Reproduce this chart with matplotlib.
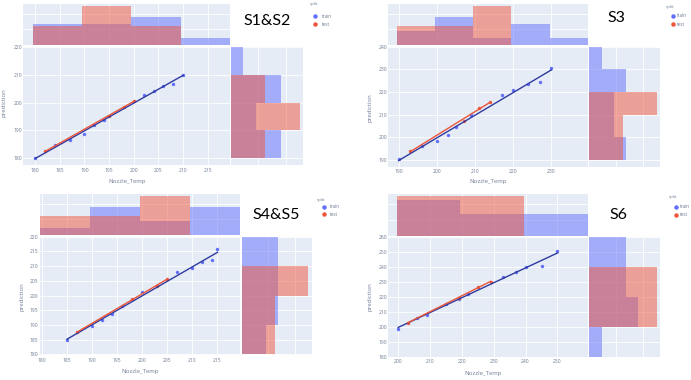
import numpy as np
import matplotlib
matplotlib.use("Agg")
import matplotlib.pyplot as plt
from matplotlib.lines import Line2D

# ---------------- data ----------------
s12_train_temp = [180, 184, 187, 190, 192, 194, 202, 204, 206, 208, 210]
s12_train_pred = [180.0, 184.6, 186.7, 188.7, 191.8, 193.8, 202.8, 204.2, 205.8, 206.7, 210.0]
s12_test_temp = [182, 195, 198, 200]
s12_test_pred = [182.5, 195.3, 198.3, 200.6]

s3_train_temp = [190, 196, 200, 203, 205, 209, 217, 220, 224, 227, 230]
s3_train_pred = [190.4, 196.2, 198.5, 201.2, 204.5, 210.1, 218.5, 221.0, 223.4, 224.3, 230.6]
s3_test_temp = [193, 207, 211, 214]
s3_test_pred = [193.9, 207.3, 213.0, 215.7]

s45_train_temp = [185, 190, 192, 194, 196, 200, 207, 210, 212, 214, 215]
s45_train_pred = [185.0, 189.7, 191.7, 193.7, 196.4, 201.2, 207.9, 209.4, 211.3, 212.0, 215.7]
s45_test_temp = [187, 198, 203, 205]
s45_test_pred = [187.5, 198.9, 203.3, 205.7]

s6_train_temp = [200, 206, 209, 215, 219, 222, 233, 237, 240, 245, 250]
s6_train_pred = [198.5, 205.8, 208.0, 215.5, 218.8, 222.3, 233.3, 236.8, 240.4, 241.0, 250.6]
s6_test_temp = [203, 219, 225, 229]
s6_test_pred = [202.8, 219.4, 226.6, 230.3]

panel_titles = ["S1&S2", "S3", "S4&S5", "S6"]
split_labels = ["train", "test"]
x_title = "Nozzle_Temp"
y_title = "prediction"

# ---------------- style ----------------
W, H = 691, 380
BG = "#E5ECF6"
BLUE = "#636EFA"
RED = "#EF553B"
BLUE_LINE = "#2f3b9e"
RED_LINE = "#EC5537"
TICK = "#6f7d95"
FONT = "Open Sans"

fig = plt.figure(figsize=(W / 100, H / 100), dpi=100)
fig.patch.set_facecolor("white")


def px_axes(l, t, r, b):
    return fig.add_axes([l / W, 1 - b / H, (r - l) / W, (b - t) / H])


def fx(x):
    return x / W


def fy(y):
    return 1 - y / H


def base_style(ax):
    ax.set_facecolor(BG)
    for s in ax.spines.values():
        s.set_visible(False)
    ax.grid(True, color="white", lw=0.6)
    ax.set_axisbelow(True)
    ax.tick_params(length=0, colors=TICK, labelsize=3.6)
    for lab in ax.get_xticklabels() + ax.get_yticklabels():
        lab.set_fontfamily(FONT)


def panel(tr_x, tr_y, te_x, te_y, main_box, top_box, right_box, xlim, ylim,
          xticks, yticks, xbins, ybins, title, title_xy, legend_xy,
          xlabel_xy, ylabel_xy):
    axm = px_axes(*main_box)
    axt = px_axes(*top_box)
    axr = px_axes(*right_box)

    groups = [(tr_x, tr_y, BLUE, BLUE_LINE), (te_x, te_y, RED, RED_LINE)]

    # top marginal histogram (Nozzle_Temp)
    for gx, gy, c, _ in groups:
        axt.hist(gx, bins=xbins, weights=np.full(len(gx), 1.0 / len(gx)),
                 color=c, alpha=0.5, lw=0)
    axt.set_xlim(*xlim)
    axt.set_ylim(0, 0.526)
    axt.set_xticks(xticks)
    axt.set_yticks([0.2, 0.4])
    base_style(axt)
    axt.tick_params(labelbottom=False, labelleft=False)

    # right marginal histogram (prediction)
    for gx, gy, c, _ in groups:
        axr.hist(gy, bins=ybins, weights=np.full(len(gy), 1.0 / len(gy)),
                 color=c, alpha=0.5, lw=0, orientation="horizontal")
    axr.set_ylim(*ylim)
    axr.set_xlim(0, 0.526)
    axr.set_yticks(yticks)
    axr.set_xticks([0.2, 0.4])
    base_style(axr)
    axr.tick_params(labelbottom=False, labelleft=False)

    # main scatter with OLS trendlines
    for gx, gy, c, lc in groups:
        gx = np.asarray(gx, float)
        gy = np.asarray(gy, float)
        axm.scatter(gx, gy, s=6, color=c, lw=0, zorder=3)
        k, b0 = np.polyfit(gx, gy, 1)
        xs = np.array([gx.min(), gx.max()])
        axm.plot(xs, k * xs + b0, color=lc, lw=1.0, zorder=4)
    axm.set_xlim(*xlim)
    axm.set_ylim(*ylim)
    axm.set_xticks(xticks)
    axm.set_yticks(yticks)
    base_style(axm)
    axm.tick_params(axis="x", pad=2.0)
    axm.tick_params(axis="y", pad=1.0)

    # axis titles
    fig.text(fx(xlabel_xy[0]), fy(xlabel_xy[1]), x_title, ha="center",
             va="center", fontsize=4.3, color=TICK, family=FONT)
    fig.text(fx(ylabel_xy[0]), fy(ylabel_xy[1]), y_title, ha="center",
             va="center", rotation=90, fontsize=4.3, color=TICK, family=FONT)

    # panel title
    fig.text(fx(title_xy[0]), fy(title_xy[1]), title, ha="center",
             va="center", fontsize=11.5, color="black", family="Lato")

    # legend
    lx, ly, mx, tx, r1, r2 = legend_xy
    fig.text(fx(lx), fy(ly), "split", ha="left", va="center",
             fontsize=3.2, color=TICK, family=FONT)
    for yy, c, lab in ((r1, BLUE, split_labels[0]), (r2, RED, split_labels[1])):
        fig.add_artist(Line2D([fx(mx)], [fy(yy)], marker="o", ms=2.2,
                              color=c, lw=0, transform=fig.transFigure))
        fig.text(fx(tx), fy(yy), lab, ha="left", va="center",
                 fontsize=3.3, color=TICK, family=FONT)


panel(s12_train_temp, s12_train_pred, s12_test_temp, s12_test_pred,
      main_box=(23.3, 46.7, 230, 165), top_box=(23.3, 4, 230, 45),
      right_box=(231, 46.7, 303.3, 165),
      xlim=(177.6, 219.5), ylim=(177.6, 220.0),
      xticks=np.arange(180, 216, 5), yticks=np.arange(180, 221, 10),
      xbins=np.arange(179.5, 220, 10), ybins=np.arange(180, 221, 10),
      title=panel_titles[0], title_xy=(266.7, 21),
      legend_xy=(310, 4, 315, 321.5, 16, 24),
      xlabel_xy=(127, 181), ylabel_xy=(4, 103))

panel(s3_train_temp, s3_train_pred, s3_test_temp, s3_test_pred,
      main_box=(388.3, 46.7, 587.7, 166.7), top_box=(388.3, 4, 587.7, 45),
      right_box=(589.3, 46.7, 660, 166.7),
      xlim=(187.3, 239.5), ylim=(187.1, 240.0),
      xticks=np.arange(190, 231, 10), yticks=np.arange(190, 241, 10),
      xbins=np.arange(189.5, 240, 10), ybins=np.arange(190, 241, 10),
      title=panel_titles[1], title_xy=(616.7, 17.7),
      legend_xy=(666, 6.7, 672.5, 677, 15.7, 24.3),
      xlabel_xy=(487.7, 182), ylabel_xy=(370, 108))

panel(s45_train_temp, s45_train_pred, s45_test_temp, s45_test_pred,
      main_box=(40, 236.7, 240, 355), top_box=(40, 194, 240, 235),
      right_box=(241.7, 236.7, 311.7, 355),
      xlim=(179.6, 219.5), ylim=(179.8, 220.0),
      xticks=np.arange(180, 216, 5), yticks=np.arange(180, 221, 5),
      xbins=np.arange(179.5, 220, 10), ybins=np.arange(180, 221, 10),
      title=panel_titles[2], title_xy=(276, 215),
      legend_xy=(317, 200, 324, 329.5, 206.7, 214.3),
      xlabel_xy=(140, 371), ylabel_xy=(21.7, 296.7))

panel(s6_train_temp, s6_train_pred, s6_test_temp, s6_test_pred,
      main_box=(388.3, 237.3, 587.7, 356.7), top_box=(388.3, 194, 587.7, 236),
      right_box=(589.3, 237.3, 660, 356.7),
      xlim=(196.9, 259.5), ylim=(180.0, 260.0),
      xticks=np.arange(200, 251, 10), yticks=np.arange(180, 261, 10),
      xbins=np.arange(199.5, 260, 20), ybins=np.arange(180, 261, 20),
      title=panel_titles[3], title_xy=(618.3, 215),
      legend_xy=(669, 197.3, 675.5, 680, 206.7, 215),
      xlabel_xy=(483.3, 373.3), ylabel_xy=(370, 296.7))

fig.savefig("out.png", dpi=100, facecolor="white")
